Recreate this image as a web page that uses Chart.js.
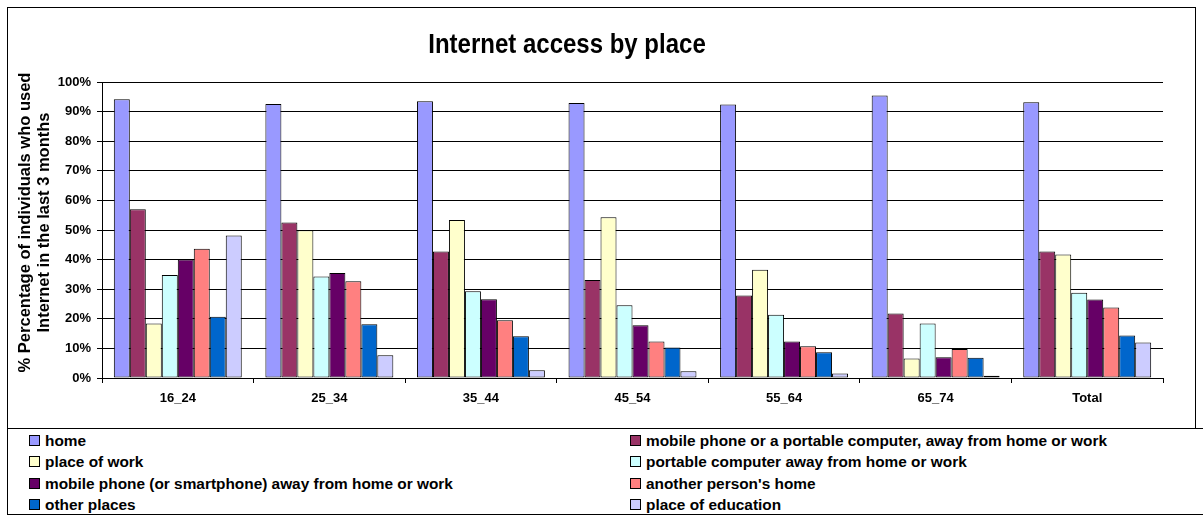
<!DOCTYPE html>
<html>
<head>
<meta charset="utf-8">
<title>Internet access by place</title>
<script src="https://cdn.jsdelivr.net/npm/chart.js@4.4.1/dist/chart.umd.min.js"></script>
<style>
  html, body { margin: 0; padding: 0; background: #fff; overflow: hidden; }
  body { width: 1203px; height: 517px; position: relative; font-family: "Liberation Sans", Arial, sans-serif; }
  #frame { position: absolute; left: 7px; top: 7px; width: 1187px; height: 420px; border: 1px solid #000; background: #fff; }
  #frame canvas { display: block; }
  #legend {
    position: absolute; left: 7px; top: 428px; width: 1210px; height: 87px;
    box-sizing: border-box; border: 1px solid #000; background: #fff;
    display: grid; grid-template-columns: 601px auto; grid-auto-rows: 21.3px;
    padding: 1px 0 0 21px;
  }
  .item { display: flex; align-items: center; font-weight: bold; font-size: 15.4px; line-height: 1; color: #000; white-space: nowrap; }
  .swatch { width: 11px; height: 11px; box-sizing: border-box; border: 1px solid #000; margin-right: 5px; flex: none; }
</style>
</head>
<body>
<div id="frame"><canvas id="chart"></canvas></div>
<div id="legend"></div>
<script>
// Age groups along the x axis
const categories = ['16_24', '25_34', '35_44', '45_54', '55_64', '65_74', 'Total'];

// Share of individuals (%) who used the Internet in the last 3 months, by place of access
const home             = [94.2, 92.6, 93.5, 92.9, 92.4, 95.4, 93.2];
const mobileOrPortable = [57.0, 52.5, 42.7, 33.1, 27.9, 21.8, 42.7];
const placeOfWork      = [18.4, 49.9, 53.4, 54.3, 36.6, 6.6, 41.7];
const portableComputer = [34.8, 34.3, 29.3, 24.6, 21.4, 18.4, 28.8];
const mobilePhone      = [40.0, 35.5, 26.6, 17.8, 12.3, 7.0, 26.5];
const anotherHome      = [43.7, 32.7, 19.5, 12.3, 10.7, 9.8, 23.8];
const otherPlaces      = [20.7, 18.2, 14.1, 10.3, 8.7, 6.8, 14.4];
const placeOfEducation = [48.1, 7.7, 2.6, 2.3, 1.5, 0.8, 12.0];

const seriesLabels = [
  'home',
  'mobile phone or a portable computer, away from home or work',
  'place of work',
  'portable computer away from home or work',
  'mobile phone (or smartphone) away from home or work',
  "another person's home",
  'other places',
  'place of education'
];
const seriesValues = [home, mobileOrPortable, placeOfWork, portableComputer,
                      mobilePhone, anotherHome, otherPlaces, placeOfEducation];
const seriesColors = ['#9999FF', '#993366', '#FFFFCC', '#CCFFFF',
                      '#660066', '#FF8080', '#0066CC', '#CCCCFF'];

const yTicks = { min: 0, max: 100, step: 10 };
const yTitleLines = ['% Percentage of individuals who used', 'Internet in the last 3 months'];

const FONT = '"Liberation Sans", Arial, sans-serif';

// Chart heading, drawn slightly condensed like the original workbook style
const headingPlugin = {
  id: 'heading',
  afterDraw(chart, args, opts) {
    const ctx = chart.ctx;
    ctx.save();
    ctx.font = 'bold ' + opts.size + 'px ' + FONT;
    ctx.fillStyle = '#000';
    ctx.textAlign = 'center';
    ctx.textBaseline = 'alphabetic';
    ctx.translate(opts.x, opts.y);
    ctx.scale(1, opts.stretch);
    ctx.fillText(opts.text, 0, 0);
    ctx.restore();
  }
};

// Rotated two-line value-axis caption, placed in the space reserved left of the y axis
const axisCaptionPlugin = {
  id: 'axisCaption',
  afterDraw(chart, args, opts) {
    const ctx = chart.ctx;
    ctx.save();
    ctx.font = 'bold ' + opts.size + 'px ' + FONT;
    ctx.fillStyle = '#000';
    ctx.textAlign = 'center';
    ctx.textBaseline = 'middle';
    opts.lines.forEach((line, i) => {
      ctx.save();
      ctx.translate(opts.x + i * opts.lineGap, opts.y);
      ctx.rotate(-Math.PI / 2);
      ctx.fillText(line, 0, 0);
      ctx.restore();
    });
    ctx.restore();
  }
};

const chart = new Chart(document.getElementById('chart'), {
  type: 'bar',
  data: {
    labels: categories,
    datasets: seriesLabels.map((label, i) => ({
      label,
      data: seriesValues[i],
      backgroundColor: seriesColors[i],
      borderColor: '#000',
      borderWidth: 1,
      borderSkipped: false,
      categoryPercentage: 0.844,
      barPercentage: 1.0
    }))
  },
  options: {
    responsive: true,
    maintainAspectRatio: false,
    animation: false,
    layout: { padding: { top: 74, right: 32, bottom: 0, left: 0 } },
    plugins: {
      legend: { display: false },
      tooltip: { enabled: false },
      heading: { text: 'Internet access by place', x: 559, y: 45, size: 24, stretch: 1.14 },
      axisCaption: { lines: yTitleLines, x: 17.6, y: 214.5, lineGap: 19.3, size: 16.5 }
    },
    scales: {
      x: {
        offset: true,
        grid: { display: true, drawOnChartArea: false, drawTicks: true, tickLength: 5, color: '#000', offset: true },
        border: { display: true, color: '#000' },
        ticks: { color: '#000', padding: 8, font: { family: FONT, size: 13, weight: 'bold' }, maxRotation: 0 },
        afterFit(scale) { scale.height = 50; }
      },
      y: {
        min: yTicks.min,
        max: yTicks.max,
        grid: { color: '#000', lineWidth: 1, drawTicks: true, tickLength: 5 },
        border: { display: true, color: '#000' },
        ticks: {
          stepSize: yTicks.step,
          color: '#000',
          padding: 6,
          font: { family: FONT, size: 13, weight: 'bold' },
          callback: v => v + '%'
        },
        afterFit(scale) { scale.width = 94; }
      }
    }
  },
  plugins: [headingPlugin, axisCaptionPlugin]
});

// Two-column legend built from the chart's datasets
const legendEl = document.getElementById('legend');
chart.data.datasets.forEach(ds => {
  const item = document.createElement('div');
  item.className = 'item';
  const sw = document.createElement('span');
  sw.className = 'swatch';
  sw.style.background = ds.backgroundColor;
  const txt = document.createElement('span');
  txt.textContent = ds.label;
  item.appendChild(sw);
  item.appendChild(txt);
  legendEl.appendChild(item);
});
</script>
</body>
</html>
